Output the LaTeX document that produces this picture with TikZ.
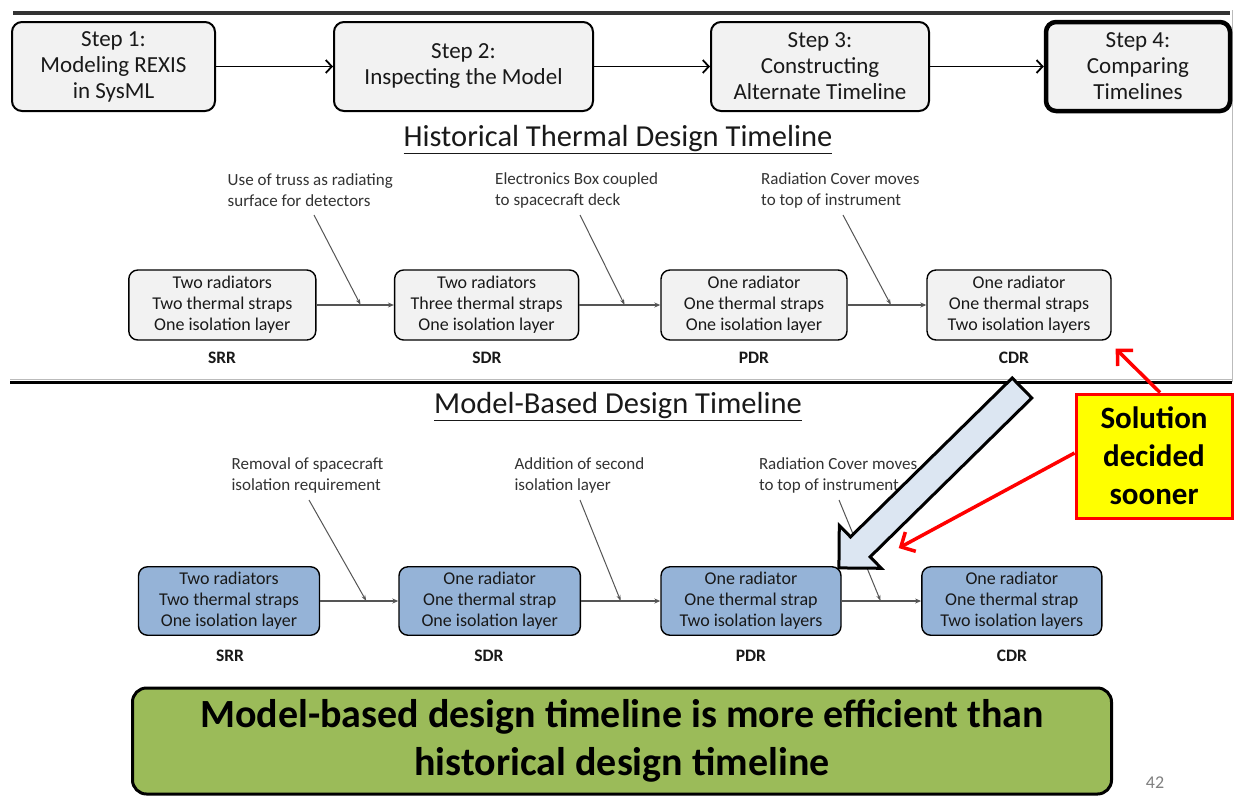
\documentclass[tikz,border=0pt]{standalone}
\usepackage{fontspec}
\setmainfont{Carlito}
\usetikzlibrary{arrows.meta,calc}
\definecolor{stepfill}{HTML}{F2F2F2}
\definecolor{mbfill}{HTML}{95B3D7}
\definecolor{blockfill}{HTML}{DCE6F2}
\definecolor{greenfill}{HTML}{9BBB59}
\definecolor{annotcol}{HTML}{333333}
\definecolor{linecol}{HTML}{555555}
\definecolor{topline}{HTML}{333333}
\definecolor{framecol}{HTML}{BBBBBB}
\definecolor{redcol}{HTML}{FF0000}
\definecolor{yellowcol}{HTML}{FFFF00}
\begin{document}
\begin{tikzpicture}[x=1pt,y=1pt,
  stepbox/.style={draw=black, line width=2pt, rounded corners=10pt, fill=stepfill, align=center,
    font=\fontsize{23}{26}\selectfont, inner sep=0pt, minimum height=89pt, text=black!90},
  steparrow/.style={line width=1.8pt, -{Straight Barb[length=6pt,width=13pt,line width=1.8pt]}},
  tlbox/.style={draw=black, line width=1.4pt, rounded corners=9pt, align=center,
    font=\fontsize{18}{21}\selectfont, inner sep=0pt, text=black!90},
  histbox/.style={tlbox, fill=stepfill, minimum height=70pt},
  mbbox/.style={tlbox, fill=mbfill, minimum height=68.5pt},
  lbl/.style={font=\bfseries\fontsize{17.5}{20}\selectfont, inner sep=0pt, text=black!90},
  conn/.style={draw=linecol, line width=1.1pt, -{Stealth[length=6pt,width=5pt]}},
  annline/.style={draw=linecol, line width=1.0pt, -{Stealth[length=6pt,width=4pt]}},
  annot/.style={font=\fontsize{17}{20.7}\selectfont, align=left, inner sep=0pt, text=annotcol, anchor=west},
  ttl/.style={font=\fontsize{30.5}{34}\selectfont, inner sep=0pt, text=black!90},
  redarrow/.style={draw=redcol, line width=3.5pt, -{Straight Barb[length=11pt,width=22pt,line width=3.5pt]}},
  ybox/.style={draw=redcol, line width=3pt, fill=yellowcol, align=center, inner sep=0pt,
    font=\bfseries\fontsize{31}{38}\selectfont},
  gbox/.style={draw=black, line width=3pt, rounded corners=14pt, fill=greenfill, align=center,
    inner sep=0pt, font=\bfseries\fontsize{40}{48}\selectfont},
  blockarrow/.style={draw=black, line width=3pt, fill=blockfill, line join=miter}
]
\fill[white] (0,0) rectangle (1241,-796);
\useasboundingbox (0,0) rectangle (1241,-796);

% frame lines
\draw[line width=4pt, topline] (13,-13) -- (1230,-13);
\draw[line width=1pt, framecol] (1232,-10) -- (1232,-382);
\draw[line width=1pt, framecol] (10,-379) -- (1232,-379);
\draw[line width=3.5pt, black] (10,-382.5) -- (1232,-382.5);

% step row
\node[stepbox, minimum width=203pt] (s1) at (113.5,-66.5) {Step 1:\\Modeling REXIS\\in SysML};
\node[stepbox, minimum width=259pt] (s2) at (463.5,-66.5) {Step 2:\\Inspecting the Model};
\node[stepbox, minimum width=218pt] (s3) at (820,-66.5) {Step 3:\\Constructing\\Alternate Timeline};
\node[stepbox, minimum width=184pt, line width=4.5pt] (s4) at (1138,-66.5) {Step 4:\\Comparing\\Timelines};
\draw[steparrow] (s1) -- (s2);
\draw[steparrow] (s2) -- (s3);
\draw[steparrow] (s3) -- (s4);

% historical timeline
\node[ttl] (ht) at (618,-140) {\underline{Historical Thermal Design Timeline}};
\node[histbox, minimum width=187pt] (h1) at (222.3,-305) {Two radiators\\Two thermal straps\\One isolation layer};
\node[histbox, minimum width=184pt] (h2) at (486.6,-305) {Two radiators\\Three thermal straps\\One isolation layer};
\node[histbox, minimum width=186pt] (h3) at (754,-305) {One radiator\\One thermal straps\\One isolation layer};
\node[histbox, minimum width=184pt] (h4) at (1019,-305) {One radiator\\One thermal straps\\Two isolation layers};
\node[lbl] (h1l) at (222,-358) {SRR};
\node[lbl] (h2l) at (487,-358) {SDR};
\node[lbl] (h3l) at (754,-358) {PDR};
\node[lbl] (h4l) at (1014,-358) {CDR};
\draw[conn] (h1) -- coordinate[pos=0.57] (h1m) (h2);
\draw[conn] (h2) -- coordinate[pos=0.56] (h2m) (h3);
\draw[conn] (h3) -- coordinate[pos=0.55] (h3m) (h4);
\node[annot] (ha1) at (227.5,-190.4) {Use of truss as radiating\\surface for detectors};
\node[annot] (ha2) at (495,-190.4) {Electronics Box coupled\\to spacecraft deck};
\node[annot] (ha3) at (761,-190.4) {Radiation Cover moves\\to top of instrument};
\coordinate (ha1s) at (314,-215);
\coordinate (ha2s) at (580,-215);
\coordinate (ha3s) at (843,-215);
\draw[annline] (ha1s) -- (h1m);
\draw[annline] (ha2s) -- (h2m);
\draw[annline] (ha3s) -- (h3m);

% model-based timeline
\node[ttl] (mt) at (618,-407) {\underline{Model-Based Design Timeline}};
\node[mbbox, minimum width=181pt] (m1) at (229,-601) {Two radiators\\Two thermal straps\\One isolation layer};
\node[mbbox, minimum width=181.4pt] (m2) at (489.7,-601) {One radiator\\One thermal strap\\One isolation layer};
\node[mbbox, minimum width=180pt] (m3) at (751,-601) {One radiator\\One thermal strap\\Two isolation layers};
\node[mbbox, minimum width=180pt] (m4) at (1011.8,-601) {One radiator\\One thermal strap\\Two isolation layers};
\node[lbl] (m1l) at (230,-656) {SRR};
\node[lbl] (m2l) at (489,-656) {SDR};
\node[lbl] (m3l) at (751,-656) {PDR};
\node[lbl] (m4l) at (1012,-656) {CDR};
\draw[conn] (m1) -- coordinate[pos=0.59] (m1m) (m2);
\draw[conn] (m2) -- coordinate[pos=0.50] (m2m) (m3);
\draw[conn] (m3) -- coordinate[pos=0.49] (m3m) (m4);
\node[annot] (ma1) at (231.4,-475.5) {Removal of spacecraft\\isolation requirement};
\node[annot] (ma2) at (514.3,-475.5) {Addition of second\\isolation layer};
\node[annot] (ma3) at (758.8,-475.5) {Radiation Cover moves\\to top of instrument};
\coordinate (ma1s) at (309,-500);
\coordinate (ma2s) at (580,-500);
\coordinate (ma3s) at (839,-500);
\draw[annline] (ma1s) -- (m1m);
\draw[annline] (ma2s) -- (m2m);
\draw[annline] (ma3s) -- (m3m);

% big block arrow
\begin{scope}[shift={(1022,-388)}, rotate=224.5]
  \draw[blockarrow] (0,14) -- (226.7,14) -- (226.7,30) -- (256.7,0) -- (226.7,-30) -- (226.7,-14) -- (0,-14) -- cycle;
\end{scope}

% yellow callout
\node[ybox, minimum width=156pt, minimum height=124pt] (yb) at (1154,-456) {Solution\\decided\\sooner};
\draw[redarrow] ([xshift=6pt]yb.north) -- ([shift={(4pt,-8pt)}]h4.south east);
\draw[redarrow] ([yshift=3pt]yb.west) -- ([shift={(57pt,18pt)}]m3.north east);

% conclusion
\node[gbox, minimum width=979pt, minimum height=106pt] (gb) at (622,-741) {Model-based design timeline is more efficient than\\historical design timeline};
\node[font=\fontsize{18}{20}\selectfont, text=black!50, inner sep=0pt] (pg) at (1155,-783) {42};
\end{tikzpicture}
\end{document}
